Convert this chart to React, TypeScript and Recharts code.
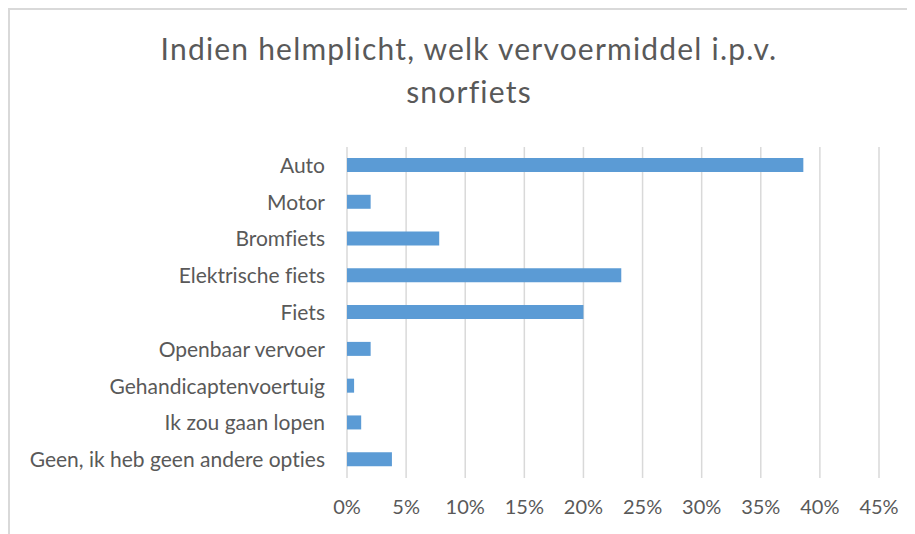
import React from 'react';
import { BarChart, Bar, XAxis, YAxis, CartesianGrid } from 'recharts';

// Categories, top to bottom as in the chart
const categories = [
  'Auto',
  'Motor',
  'Bromfiets',
  'Elektrische fiets',
  'Fiets',
  'Openbaar vervoer',
  'Gehandicaptenvoertuig',
  'Ik zou gaan lopen',
  'Geen, ik heb geen andere opties',
];

// Share of respondents (%)
const shares = [38.6, 2.0, 7.8, 23.2, 20.0, 2.0, 0.6, 1.2, 3.8];

const xTicks = [0, 5, 10, 15, 20, 25, 30, 35, 40, 45];

const data = categories.map((name, i) => ({ name, value: shares[i] }));

const FONT = 'Lato, "Open Sans", sans-serif';
const TEXT = '#595959';

const App: React.FC = () => {
  return (
    <div
      style={{
        position: 'relative',
        width: 907,
        height: 526,
        boxSizing: 'border-box',
        borderTop: '2px solid #d9d9d9',
        borderLeft: '2px solid #d9d9d9',
        background: '#fff',
        fontFamily: FONT,
        fontVariantLigatures: 'none',
      }}
    >
      <div
        style={{
          position: 'absolute',
          left: 0,
          width: 918,
          top: 17,
          textAlign: 'center',
          fontSize: 30,
          letterSpacing: 1.2,
          lineHeight: '43px',
          color: TEXT,
        }}
      >
        Indien helmplicht, welk vervoermiddel i.p.v.
        <br />
        snorfiets
      </div>
      <div style={{ position: 'absolute', left: -2, top: -2 }}>
        <BarChart
          width={907}
          height={526}
          data={data}
          layout="vertical"
          margin={{ top: 139, right: 36, bottom: 16, left: 9 }}
          barCategoryGap="0%"
          style={{ fontVariantLigatures: 'none' }}
        >
          <CartesianGrid horizontal={false} stroke="#d9d9d9" strokeWidth={1.5} />
          <XAxis
            type="number"
            domain={[0, 45]}
            ticks={xTicks}
            interval={0}
            tickFormatter={(v: number) => `${v}%`}
            axisLine={false}
            tickLine={false}
            tickSize={0}
            tickMargin={22}
            height={40}
            tick={{ fill: TEXT, fontSize: 20, fontFamily: FONT }}
          />
          <YAxis
            type="category"
            dataKey="name"
            width={330}
            axisLine={false}
            tickLine={false}
            tickSize={0}
            tickMargin={22}
            interval={0}
            tick={{ fill: TEXT, fontSize: 21, fontFamily: FONT }}
          />
          <Bar dataKey="value" fill="#5b9bd5" barSize={14} isAnimationActive={false} />
        </BarChart>
      </div>
    </div>
  );
};

export default App;
